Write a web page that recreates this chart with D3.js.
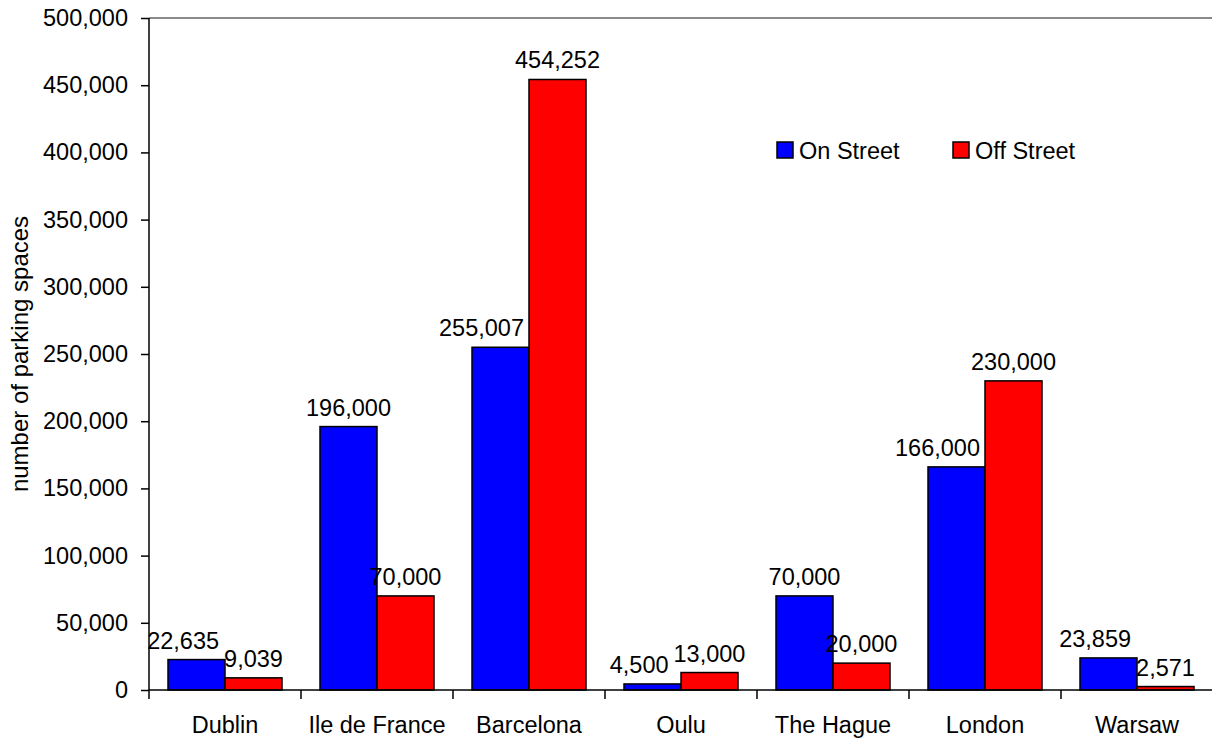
<!DOCTYPE html>
<html>
<head>
<meta charset="utf-8">
<script src="https://cdn.jsdelivr.net/npm/d3@7"></script>
<style>
  html, body { margin: 0; padding: 0; background: #fff; }
  svg { display: block; font-family: "Liberation Sans", Arial, sans-serif; }
</style>
</head>
<body>
<svg id="chart" width="1212" height="740"></svg>
<script>
// Parking spaces per city, on-street vs off-street
const cities = ["Dublin", "Ile de France", "Barcelona", "Oulu", "The Hague", "London", "Warsaw"];
const onStreet = [22635, 196000, 255007, 4500, 70000, 166000, 23859];
const offStreet = [9039, 70000, 454252, 13000, 20000, 230000, 2571];
const seriesNames = ["On Street", "Off Street"];
const seriesColors = ["#0000FF", "#FF0000"];
const yTicks = [0, 50000, 100000, 150000, 200000, 250000, 300000, 350000, 400000, 450000, 500000];

const svg = d3.select("#chart");
const margin = { left: 149, top: 18 };
const plotW = 1064;
const y0 = 690;
const FS = 23.5;

const x = d3.scaleBand().domain(cities).range([margin.left, margin.left + plotW]).paddingInner(0.25).paddingOuter(0.125);
const xOuter = d3.scaleBand().domain(cities).range([margin.left, margin.left + plotW]).padding(0);
const xSub = d3.scaleBand().domain(seriesNames).range([0, x.bandwidth()]);
const y = d3.scaleLinear().domain([0, 500000]).range([y0, margin.top]);
const fmt = d3.format(",");

const rows = cities.map((c, i) => ({ city: c, values: [onStreet[i], offStreet[i]] }));

// top frame line
svg.append("line")
  .attr("x1", margin.left).attr("x2", margin.left + plotW)
  .attr("y1", y(500000)).attr("y2", y(500000))
  .attr("stroke", "#8a8a8a").attr("stroke-width", 2);

// bars
const groups = svg.append("g").selectAll("g").data(rows).join("g")
  .attr("transform", d => `translate(${x(d.city)},0)`);

groups.selectAll("rect")
  .data(d => d.values.map((v, k) => ({ v, k, name: seriesNames[k] })))
  .join("rect")
  .attr("x", d => xSub(d.name))
  .attr("width", xSub.bandwidth())
  .attr("y", d => y(d.v))
  .attr("height", d => y0 - y(d.v))
  .attr("fill", d => seriesColors[d.k])
  .attr("stroke", "#000").attr("stroke-width", 1.5);

// value labels, centred over each bar
groups.each(function (d) {
  const g = d3.select(this);
  const labels = d.values.map((v, k) => g.append("text")
    .attr("class", "val")
    .attr("x", xSub(seriesNames[k]) + xSub.bandwidth() / 2)
    .attr("y", y(v) - 11)
    .attr("text-anchor", "middle")
    .attr("font-size", FS)
    .attr("fill", "#000")
    .text(fmt(v)));

  // move the on-street label left when it runs into the off-street bar or label
  const a = labels[0].node().getBBox();
  const b = labels[1].node().getBBox();
  const redLeft = xSub(seriesNames[1]);
  const redTop = y(d.values[1]);
  const pad = 4;
  const hitsBar = a.x + a.width > redLeft && a.y + a.height > redTop;
  const hitsLabel = a.x + a.width > b.x && a.y + a.height + pad > b.y && b.y + b.height + pad > a.y;
  if (hitsBar || hitsLabel) {
    const limit = Math.min(hitsBar ? redLeft : Infinity, hitsLabel ? b.x : Infinity) - 5;
    const cx = +labels[0].attr("x") - (a.x + a.width - limit);
    labels[0].attr("x", cx);
  }
});

// y axis
const yAxis = d3.axisLeft(y).tickValues(yTicks).tickFormat(fmt).tickSize(8).tickPadding(13);
const gy = svg.append("g").attr("transform", `translate(${margin.left},0)`).call(yAxis);
gy.select(".domain").attr("stroke", "#000").attr("stroke-width", 1.5).attr("d", `M0,${y0}V${margin.top}`);
gy.selectAll(".tick line").attr("stroke", "#000").attr("stroke-width", 1.5);
gy.selectAll(".tick text").attr("font-size", FS).attr("font-family", "Liberation Sans, Arial, sans-serif").attr("fill", "#000");

// x axis: ticks at category boundaries, labels centred in each category
const gx = svg.append("g");
gx.append("line")
  .attr("x1", margin.left).attr("x2", margin.left + plotW)
  .attr("y1", y0).attr("y2", y0)
  .attr("stroke", "#000").attr("stroke-width", 1.5);
const boundaries = cities.map(c => xOuter(c));
gx.selectAll("line.tk").data(boundaries).join("line")
  .attr("class", "tk")
  .attr("x1", d => d).attr("x2", d => d)
  .attr("y1", y0).attr("y2", y0 + 9)
  .attr("stroke", "#000").attr("stroke-width", 1.5);
gx.selectAll("text").data(cities).join("text")
  .attr("x", d => xOuter(d) + xOuter.bandwidth() / 2)
  .attr("y", 733)
  .attr("text-anchor", "middle")
  .attr("font-size", FS)
  .attr("fill", "#000")
  .text(d => d);

// y axis title
svg.append("text")
  .attr("transform", `translate(28,${(y0 + margin.top) / 2}) rotate(-90)`)
  .attr("text-anchor", "middle")
  .attr("font-size", 24)
  .attr("fill", "#000")
  .text("number of parking spaces");

// legend
const legendX = [777, 953];
const lg = svg.append("g").selectAll("g").data(seriesNames).join("g")
  .attr("transform", (d, i) => `translate(${legendX[i]},142)`);
lg.append("rect").attr("width", 16).attr("height", 16)
  .attr("fill", (d, i) => seriesColors[i]).attr("stroke", "#000").attr("stroke-width", 1.5);
lg.append("text").attr("x", 22).attr("y", 17)
  .attr("font-size", FS).attr("fill", "#000")
  .text(d => d);
</script>
</body>
</html>
